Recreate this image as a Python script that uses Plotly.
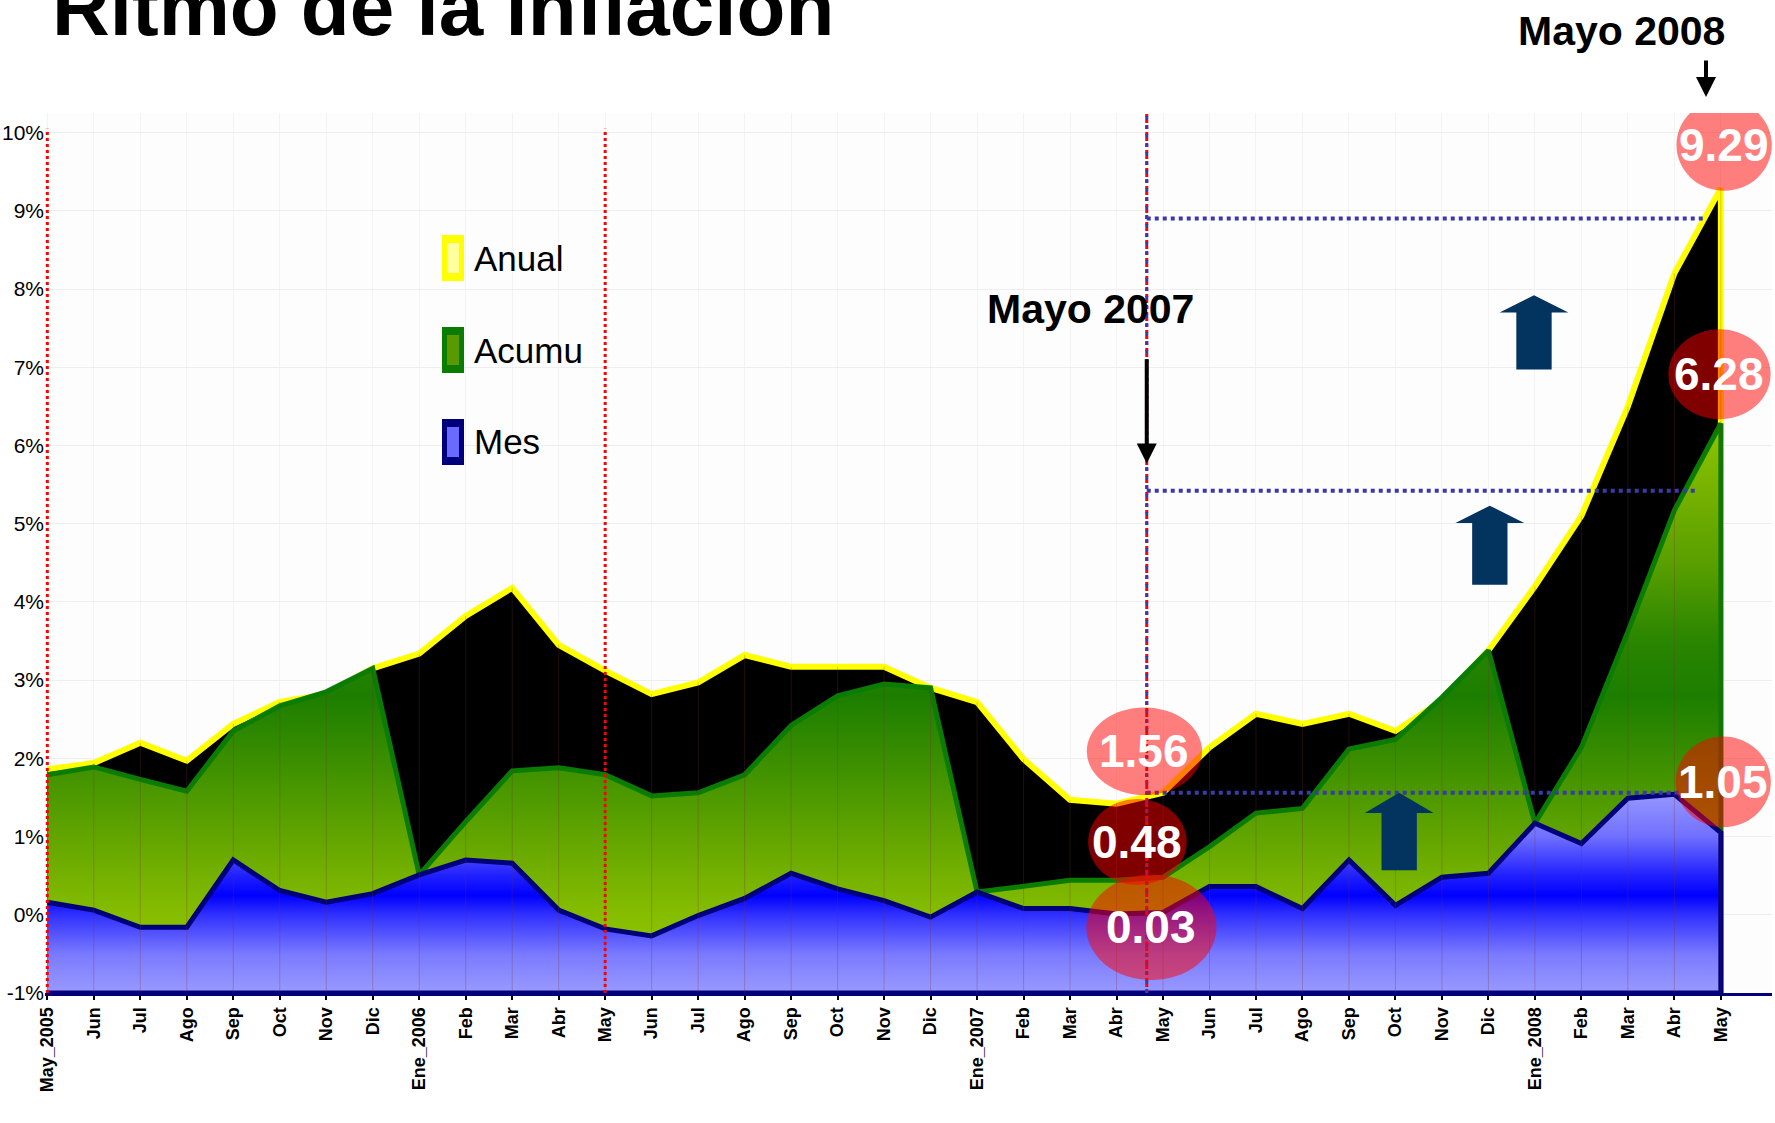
import plotly.graph_objects as go

# ---- data ----
months = ["May_2005", "Jun", "Jul", "Ago", "Sep", "Oct", "Nov", "Dic",
          "Ene_2006", "Feb", "Mar", "Abr", "May", "Jun", "Jul", "Ago", "Sep", "Oct", "Nov", "Dic",
          "Ene_2007", "Feb", "Mar", "Abr", "May", "Jun", "Jul", "Ago", "Sep", "Oct", "Nov", "Dic",
          "Ene_2008", "Feb", "Mar", "Abr", "May"]

anual = [1.86, 1.94, 2.20, 1.97, 2.44, 2.72, 2.82, 3.15,
         3.34, 3.82, 4.18, 3.45, 3.12, 2.82, 2.97, 3.32, 3.17, 3.17, 3.17, 2.90,
         2.72, 1.99, 1.47, 1.42, 1.56, 2.14, 2.57, 2.44, 2.57, 2.35, 2.74, 3.38,
         4.20, 5.10, 6.50, 8.20, 9.29]

acumu = [1.79, 1.89, 1.73, 1.58, 2.35, 2.67, 2.85, 3.15,
         0.51, 1.19, 1.84, 1.88, 1.79, 1.52, 1.56, 1.79, 2.42, 2.80, 2.95, 2.90,
         0.29, 0.36, 0.44, 0.44, 0.48, 0.87, 1.30, 1.36, 2.12, 2.24, 2.78, 3.38,
         1.17, 2.14, 3.62, 5.17, 6.28]

mes = [0.16, 0.06, -0.16, -0.16, 0.70, 0.31, 0.16, 0.27,
       0.51, 0.70, 0.66, 0.06, -0.18, -0.27, -0.01, 0.21, 0.53, 0.33, 0.18, -0.03,
       0.29, 0.08, 0.08, 0.01, 0.03, 0.36, 0.36, 0.08, 0.70, 0.12, 0.48, 0.53,
       1.17, 0.91, 1.49, 1.54, 1.05]

y_ticks = list(range(-1, 11))
legend_names = ["Anual", "Acumu", "Mes"]

# ---- geometry ----
W, H = 1775, 1123
L, R, T, B = 45, 3, 113, 130
PW, PH = W - L - R, H - T - B

idx = list(range(len(months)))
floor = y_ticks[0]
x_poly = idx + [idx[-1], idx[0]]
may07 = months.index("May", 13) - 0.35  # May 2007 marker, slightly left of its tick


def paper(xf, yf):
    return (xf - L) / PW, 1 - (yf - T) / PH


def area(values, name, color, width, fill=None, grad=None):
    return go.Scatter(x=x_poly, y=values + [floor, floor], fill="toself", mode="lines",
                      line=dict(color=color, width=width), fillcolor=fill,
                      fillgradient=grad, name=name, showlegend=False, hoverinfo="skip")


fig = go.Figure()

fig.add_trace(area(anual, "Anual", "#ffff00", 6, fill="#000000"))
fig.add_trace(area(acumu, "Acumu", "#0a7d00", 5, grad=dict(
    type="vertical", start=-1, stop=6.3,
    colorscale=[[0, "#9acc00"], [0.137, "#86bd00"], [0.274, "#62a500"], [0.411, "#3a8e00"],
                [0.52, "#1c7e00"], [0.616, "#2a8500"], [0.753, "#5a9f00"], [1, "#8fc400"]])))
fig.add_trace(area(mes, "Mes", "#00007a", 5, grad=dict(
    type="vertical", start=-1, stop=1.6,
    colorscale=[[0, "#9a9aff"], [0.19, "#7a7aff"], [0.385, "#3030ff"], [0.48, "#0000ff"],
                [0.577, "#2020ff"], [0.77, "#7070ff"], [1, "#9a9aff"]])))

shapes = []
# faint vertical grid lines over the areas
for i in idx:
    shapes.append(dict(type="line", xref="x", yref="y", x0=i, x1=i, y0=floor, y1=anual[i],
                       line=dict(color="rgba(120,50,50,0.28)", width=1), layer="above"))

# red dotted year markers
for xv in [0, 12]:
    shapes.append(dict(type="line", xref="x", yref="y", x0=xv, x1=xv, y0=floor, y1=10.05,
                       line=dict(color="#ff0000", width=3, dash="dot"), layer="above"))
shapes.append(dict(type="line", xref="x", yref="y", x0=may07, x1=may07, y0=floor, y1=10.25,
                   line=dict(color="#ff0000", width=3, dash="dot"), layer="above"))
shapes.append(dict(type="line", xref="x", yref="y", x0=may07, x1=may07, y0=floor, y1=10.25,
                   line=dict(color="#3a3aa8", width=3, dash="4px,5px"), layer="above"))

# blue dotted levels
for yv, xe in [(8.9, 35.65), (5.42, 35.45), (anual[24], 35.1)]:
    shapes.append(dict(type="line", xref="x", yref="y", x0=may07, x1=xe, y0=yv, y1=yv,
                       line=dict(color="#3a3aa8", width=4, dash="dot"), layer="above"))

# block arrows
for cx, yb, yh, yt in [(31.98, 6.97, 7.70, 7.92), (31.03, 4.22, 5.01, 5.23), (29.08, 0.57, 1.30, 1.56)]:
    hw, HW = 0.38, 0.74
    path = (f"M {cx-hw},{yb} L {cx-hw},{yh} L {cx-HW},{yh} L {cx},{yt} "
            f"L {cx+HW},{yh} L {cx+hw},{yh} L {cx+hw},{yb} Z")
    shapes.append(dict(type="path", xref="x", yref="y", path=path, fillcolor="#03335f",
                       line=dict(width=0), layer="above"))

annotations = []

# value bubbles
bubbles = [(23.60, 2.09, 2.48, 1.12, anual[24]), (23.45, 0.93, 2.12, 1.10, acumu[24]),
           (23.75, -0.16, 2.80, 1.35, mes[24]), (36.07, 9.84, 2.05, 1.17, anual[36]),
           (35.97, 6.91, 2.20, 1.15, acumu[36]), (36.05, 1.70, 2.05, 1.16, mes[36])]
for cx, cy, w, h, v in bubbles:
    shapes.append(dict(type="circle", xref="x", yref="y", x0=cx - w / 2, x1=cx + w / 2,
                       y0=cy - h / 2, y1=cy + h / 2, fillcolor="rgba(255,0,0,0.5)",
                       line=dict(width=0), layer="above"))
    annotations.append(dict(x=cx, y=cy, xref="x", yref="y", text=f"<b>{v:.2f}</b>", showarrow=False,
                            font=dict(family="Liberation Sans, Arial", size=46, color="white")))

# legend (custom)
sw_colors = [("#ffff00", "#ffffa0"), ("#0a7d00", "#5a9a00"), ("#00007a", "#6a6aff")]
for k, (name, (outer, inner)) in enumerate(zip(legend_names, sw_colors)):
    yc = 258 + k * 92
    x0, y0 = paper(442, yc - 23)
    x1, y1 = paper(464, yc + 23)
    shapes.append(dict(type="rect", xref="paper", yref="paper", x0=x0, x1=x1, y0=y1, y1=y0,
                       fillcolor=outer, line=dict(width=0)))
    x0, y0 = paper(447, yc - 15)
    x1, y1 = paper(459, yc + 15)
    shapes.append(dict(type="rect", xref="paper", yref="paper", x0=x0, x1=x1, y0=y1, y1=y0,
                       fillcolor=inner, line=dict(width=0)))
    tx, ty = paper(472, yc)
    annotations.append(dict(x=tx, y=ty, xref="paper", yref="paper", text=name, showarrow=False,
                            xanchor="left", yanchor="middle",
                            font=dict(family="Liberation Sans Narrow, Arial Narrow, Liberation Sans",
                                      size=35, color="black")))

# Mayo 2007 / Mayo 2008
annotations.append(dict(x=22.43, y=7.75, xref="x", yref="y", text="<b>Mayo 2007</b>", showarrow=False,
                        font=dict(family="Liberation Sans, Arial", size=41, color="black")))
annotations.append(dict(x=may07, y=5.77, ax=may07, ay=7.12, xref="x", yref="y", axref="x", ayref="y",
                        text="", showarrow=True, arrowhead=2, arrowsize=1, arrowwidth=4,
                        arrowcolor="black"))
tx, ty = paper(1621, 31)
annotations.append(dict(x=tx, y=ty, xref="paper", yref="paper", text="<b>Mayo 2008</b>", showarrow=False,
                        xanchor="center", yanchor="middle",
                        font=dict(family="Liberation Sans, Arial", size=41, color="black")))
hx, hy = paper(1706, 97)
annotations.append(dict(x=hx, y=hy, xref="paper", yref="paper", ax=0, ay=-38,
                        text="", showarrow=True, arrowhead=2, arrowsize=1, arrowwidth=4,
                        arrowcolor="black"))

# title (partly cut off at the top, as in the slide)
tx, ty = paper(50, 8)
annotations.append(dict(x=tx, y=ty, xref="paper", yref="paper", text="<b>Ritmo de la inflación</b>",
                        showarrow=False, xanchor="left", yanchor="middle",
                        font=dict(family="Liberation Sans, Arial", size=80, color="black")))

fig.update_layout(
    width=W, height=H,
    margin=dict(l=L, r=R, t=T, b=B),
    paper_bgcolor="white", plot_bgcolor="#fdfdfd",
    showlegend=False,
    shapes=shapes, annotations=annotations,
    xaxis=dict(range=[-0.05, 37.1], tickvals=idx, ticktext=months, tickangle=-90,
               tickfont=dict(family="Liberation Sans, Arial", size=18, color="black", weight="bold"),
               ticks="outside", ticklen=4, tickwidth=2, tickcolor="black", automargin=False,
               showgrid=True, gridcolor="#f3f3f3", zeroline=False,
               showline=True, linecolor="#00007a", linewidth=3, fixedrange=True),
    yaxis=dict(range=[floor, 10.25], tickvals=y_ticks, ticktext=[f"{v}%" for v in y_ticks],
               tickfont=dict(family="Liberation Sans, Arial", size=21, color="black"),
               showgrid=True, gridcolor="#eeeeee", zeroline=False, showline=False,
               ticks="", automargin=False, fixedrange=True),
)

# the page's default body margin would push the figure 8px off the corner
fig.write_html("out.html", config={"displayModeBar": False},
               post_script="document.body.style.margin='0px';")
